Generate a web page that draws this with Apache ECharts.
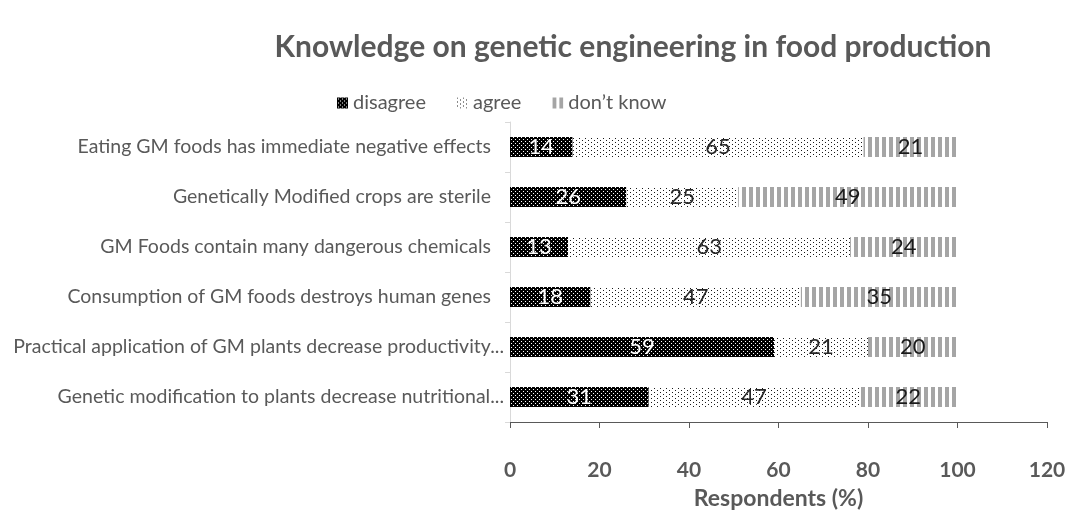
<!DOCTYPE html>
<html>
<head>
<meta charset="utf-8">
<script src="https://cdn.jsdelivr.net/npm/echarts@6/dist/echarts.min.js"></script>
<style>
  html, body { margin: 0; padding: 0; background: #fff; }
  #chart { width: 1070px; height: 517px; }
</style>
</head>
<body>
<div id="chart"></div>
<script>
// Survey statements (top to bottom)
const statements = [
  'Eating GM foods has immediate negative effects',
  'Genetically Modified crops are sterile',
  'GM Foods contain many dangerous chemicals',
  'Consumption of GM foods destroys human genes',
  'Practical application of GM plants decrease productivity...',
  'Genetic modification to plants decrease nutritional...'
];

// Share of respondents (%) per answer
const disagree = [14, 26, 13, 18, 59, 31];
const agree    = [65, 25, 63, 47, 21, 47];
const dontKnow = [21, 49, 24, 35, 20, 22];

const xTicks = [0, 20, 40, 60, 80, 100, 120];

// Small tiled fills drawn on canvases
function makeTile(w, h, bg, fg, pixels) {
  const c = document.createElement('canvas');
  c.width = w; c.height = h;
  const g = c.getContext('2d');
  g.fillStyle = bg; g.fillRect(0, 0, w, h);
  g.fillStyle = fg;
  pixels.forEach(p => g.fillRect(p[0], p[1], p[2] || 1, p[3] || 1));
  return { image: c, repeat: 'repeat' };
}
// black with a fine grid of white dots
const fillDisagree = makeTile(4, 4, '#000000', '#ffffff', [[1, 1], [3, 3]]);
// white with sparse black dots
const fillAgree = makeTile(6, 4, '#ffffff', '#1a1a1a', [[0, 0], [3, 2]]);
// grey vertical stripes
const fillDontKnow = makeTile(7, 4, '#ffffff', '#a5a5a5', [[0, 0, 4, 4]]);

const FONT = 'Lato, "Open Sans", sans-serif';
const GREY = '#595959';

function barSeries(name, data, fill, labelColor) {
  return {
    name: name,
    type: 'bar',
    stack: 'total',
    data: data,
    barWidth: 20,
    itemStyle: { color: fill },
    label: {
      show: true,
      position: 'inside',
      color: labelColor,
      fontFamily: FONT,
      fontSize: 22,
      fontWeight: 'normal'
    },
    emphasis: { disabled: true }
  };
}

const catLabelStyle = { fontFamily: FONT, fontSize: 19.5, color: GREY };

const chart = echarts.init(document.getElementById('chart'), null, { renderer: 'canvas' });
chart.setOption({
  animation: false,
  backgroundColor: '#ffffff',
  title: {
    text: 'Knowledge on genetic engineering in food production',
    left: 628,
    textAlign: 'center',
    top: 27,
    textStyle: { fontFamily: FONT, fontSize: 30, fontWeight: 'bold', color: GREY }
  },
  legend: {
    data: ['disagree', 'agree', 'don\u2019t know'],
    left: 332,
    top: 88,
    itemWidth: 11,
    itemHeight: 11,
    itemGap: 31,
    icon: 'rect',
    textStyle: { fontFamily: FONT, fontSize: 20, color: GREY },
    selectedMode: false
  },
  grid: { left: 510, right: 23, top: 122, height: 300, outerBoundsMode: 'none', containLabel: false },
  xAxis: {
    type: 'value',
    min: xTicks[0],
    max: xTicks[xTicks.length - 1],
    interval: 20,
    name: 'Respondents (%)',
    nameLocation: 'middle',
    nameGap: 65,
    nameTextStyle: { fontFamily: FONT, fontSize: 23, fontWeight: 'bold', color: GREY },
    axisLine: { show: true, lineStyle: { color: GREY, width: 1 } },
    axisTick: { show: true, length: 6, inside: false, lineStyle: { color: GREY } },
    axisLabel: { fontFamily: FONT, fontSize: 21, fontWeight: 'bold', color: GREY, margin: 38 },
    splitLine: { show: false }
  },
  yAxis: {
    type: 'category',
    data: statements,
    inverse: true,
    axisLine: { show: true, lineStyle: { color: '#d9d9d9' } },
    axisTick: { show: true, length: 5, lineStyle: { color: '#d9d9d9' } },
    axisLabel: {
      margin: 6,
      // full statements sit a little further from the axis than truncated ones
      formatter: v => (v.endsWith('...') ? '{e|' + v + '}' : '{n|' + v + '}'),
      rich: {
        e: Object.assign({}, catLabelStyle),
        n: Object.assign({ padding: [0, 13, 0, 0] }, catLabelStyle)
      }
    }
  },
  series: [
    barSeries('disagree', disagree, fillDisagree, '#ffffff'),
    barSeries('agree', agree, fillAgree, '#262626'),
    barSeries('don\u2019t know', dontKnow, fillDontKnow, '#1a1a1a')
  ]
});
</script>
</body>
</html>
